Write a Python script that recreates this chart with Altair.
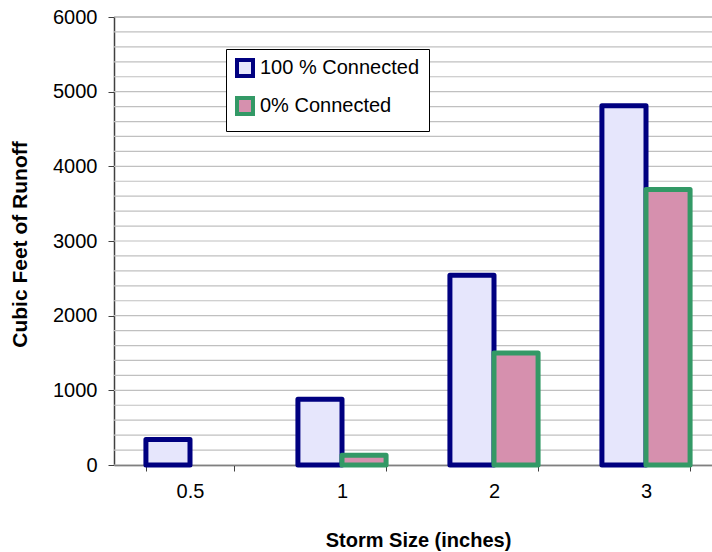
import altair as alt
import pandas as pd

# Runoff volume by storm size for two connection scenarios
storm_sizes = ["0.5", "1", "2", "3"]
runoff_100 = [340, 880, 2540, 4810]
runoff_0 = [None, 130, 1500, 3690]
series_names = ["100 % Connected", "0% Connected"]
y_ticks = [0, 1000, 2000, 3000, 4000, 5000, 6000]
grid_levels = list(range(0, 6001, 200))

rows = []
for size, a, b in zip(storm_sizes, runoff_100, runoff_0):
    rows.append({"storm": size, "series": series_names[0], "runoff": a})
    rows.append({"storm": size, "series": series_names[1], "runoff": b})
bars_df = pd.DataFrame(rows)
grid_df = pd.DataFrame({"level": grid_levels})

FONT = "Liberation Sans"
y_scale = alt.Scale(domain=[0, 6000], nice=False)

grid = alt.Chart(grid_df).mark_rule(strokeWidth=1.2).encode(
    y=alt.Y("level:Q", scale=y_scale,
            axis=alt.Axis(values=y_ticks, format="d", grid=False, domain=True,
                          domainColor="#404040", domainWidth=1.5, ticks=True, tickSize=6,
                          tickColor="#404040", labelFont=FONT, labelFontSize=20,
                          labelColor="black", labelPadding=11,
                          title="Cubic Feet of Runoff", titleFont=FONT, titleFontSize=21,
                          titleFontWeight="bold", titleColor="black", titleAngle=270,
                          titleX=-94, titleY=227, titleBaseline="middle", titleAlign="center")),
    color=alt.condition(alt.datum.level == 6000, alt.value("#8c8c8c"), alt.value("#c0c0c0")),
)

legend_cfg = dict(orient="none", legendX=112, legendY=32,
                  symbolType="square", symbolSize=256, symbolStrokeWidth=4,
                  labelFont=FONT, labelFontSize=20, labelColor="black",
                  labelOffset=5, rowPadding=6, padding=9,
                  strokeColor="#000000", fillColor="white")

bars = alt.Chart(bars_df).mark_bar(strokeWidth=5, strokeJoin="round").encode(
    x=alt.X("storm:N", sort=storm_sizes,
            scale=alt.Scale(range=[0, 608], paddingInner=0.42, paddingOuter=0.21),
            axis=alt.Axis(labelAngle=0, tickBand="extent", tickSize=6, tickColor="#404040",
                          domainColor="#404040", domainWidth=1.5,
                          labelFont=FONT, labelFontSize=20, labelColor="black", labelPadding=10,
                          title="Storm Size (inches)", titleFont=FONT, titleFontSize=20,
                          titleFontWeight="bold", titleColor="black", titlePadding=29)),
    xOffset=alt.XOffset("series:N", sort=series_names,
                        scale=alt.Scale(paddingInner=0, paddingOuter=0)),
    y=alt.Y("runoff:Q", scale=y_scale),
    fill=alt.Fill("series:N", sort=series_names, title=None,
                  scale=alt.Scale(domain=series_names, range=["#e6e6fc", "#d690ae"]),
                  legend=alt.Legend(**legend_cfg)),
    stroke=alt.Stroke("series:N", sort=series_names, title=None,
                      scale=alt.Scale(domain=series_names, range=["#000080", "#339966"]),
                      legend=alt.Legend(**legend_cfg)),
)

chart = alt.layer(grid, bars).properties(
    width=598,
    height=448,
    autosize=alt.AutoSizeParams(type="none"),
    padding={"left": 114, "top": 17, "right": 0, "bottom": 87},
    background="white",
).configure_view(stroke=None)

chart.save("out.html", embed_options={"renderer": "svg", "actions": False})
